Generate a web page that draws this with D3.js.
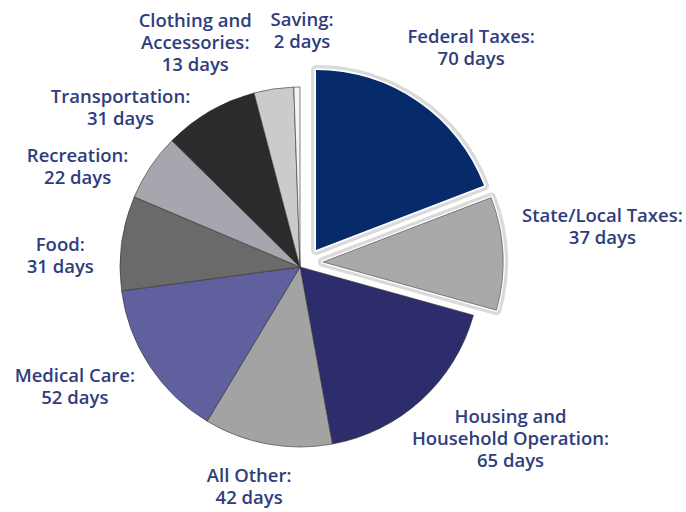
<!DOCTYPE html>
<html>
<head>
<meta charset="utf-8">
<script src="https://cdn.jsdelivr.net/npm/d3@7"></script>
<style>
  body { margin: 0; background: #fff; }
  .lbl { font-family: "Open Sans", sans-serif; font-weight: 600; font-size: 18.5px; fill: #2f3d7d; }
</style>
</head>
<body>
<div id="container"></div>
<script>
const width = 686,
  height = 512,
  center = { x: 300, y: 267 },
  radius = 180,
  lineHeight = 22;

// data: days of the year spent paying for each item (clockwise from 12 o'clock)
const categories = ["Federal Taxes", "State/Local Taxes", "Housing and\nHousehold Operation",
  "All Other", "Medical Care", "Food", "Recreation", "Transportation",
  "Clothing and\nAccessories", "Saving"];
const days = [70, 37, 65, 42, 52, 31, 22, 31, 13, 2];

// styles
const colors = ["#062a6a", "#a9a9ab", "#2e2d6c", "#a3a3a3", "#61609e",
  "#6a6a6a", "#a5a6ae", "#2b2b2b", "#cbcbcb", "#f4f4f4"];
// pulled-out slices, shift in px
const explode = { "Federal Taxes": [16, -17], "State/Local Taxes": [23, -5] };
// label spots: [angle in degrees, distance from centre]
const labelSpots = [[38, 278], [82.5, 305], [129.3, 272], [193, 226], [242, 255],
  [272.6, 240], [294.3, 244], [311.6, 240], [334.9, 247], [0.5, 236]];

const data = categories.map((c, i) => ({ name: c, days: days[i], color: colors[i], spot: labelSpots[i] }));

const svg = d3.select("#container")
  .append("svg")
  .attr("width", width)
  .attr("height", height)

const pie = d3.pie().sort(null).value(d => d.days);
const arcs = pie(data);
const arcGen = d3.arc().innerRadius(0).outerRadius(radius);

const g = svg.append("g")
  .attr("transform", `translate(${center.x}, ${center.y})`)

const shift = d => explode[d.data.name] || [0, 0];
const popped = arcs.filter(d => explode[d.data.name]);
const flat = arcs.filter(d => !explode[d.data.name]);

// regular slices
g.selectAll(".slice")
  .data(flat)
  .join("path")
  .attr("class", "slice")
  .attr("d", arcGen)
  .attr("fill", d => d.data.color)
  .attr("stroke", "#333")
  .attr("stroke-width", 0.6)
  .attr("stroke-linejoin", "round")

// light grey rim round the pulled-out slices
g.selectAll(".rim")
  .data(popped)
  .join("path")
  .attr("class", "rim")
  .attr("transform", d => `translate(${shift(d)})`)
  .attr("d", arcGen)
  .attr("fill", "none")
  .attr("stroke", "#dadada")
  .attr("stroke-width", 10)
  .attr("stroke-linejoin", "round")

g.selectAll(".gap")
  .data(popped)
  .join("path")
  .attr("class", "gap")
  .attr("transform", d => `translate(${shift(d)})`)
  .attr("d", arcGen)
  .attr("fill", "#fff")
  .attr("stroke", "#fff")
  .attr("stroke-width", 3.5)
  .attr("stroke-linejoin", "round")

g.selectAll(".popped")
  .data(popped)
  .join("path")
  .attr("class", "popped")
  .attr("transform", d => `translate(${shift(d)})`)
  .attr("d", arcGen)
  .attr("fill", d => d.data.color)
  .attr("stroke", d => d.index === 0 ? "none" : "#444")
  .attr("stroke-width", 0.6)

// labels
g.selectAll(".lbl")
  .data(arcs)
  .join("text")
  .attr("class", "lbl")
  .attr("text-anchor", "middle")
  .each(function (d) {
    const lines = (d.data.name + ":").split("\n").concat(`${d.data.days} days`);
    const [x, y] = d3.pointRadial(d.data.spot[0] * Math.PI / 180, d.data.spot[1]);
    const y0 = y - (lines.length - 1) * lineHeight / 2 + 6;
    d3.select(this).selectAll("tspan")
      .data(lines)
      .join("tspan")
      .attr("x", x)
      .attr("y", (l, i) => y0 + i * lineHeight)
      .text(l => l)
  })
</script>
</body>
</html>
